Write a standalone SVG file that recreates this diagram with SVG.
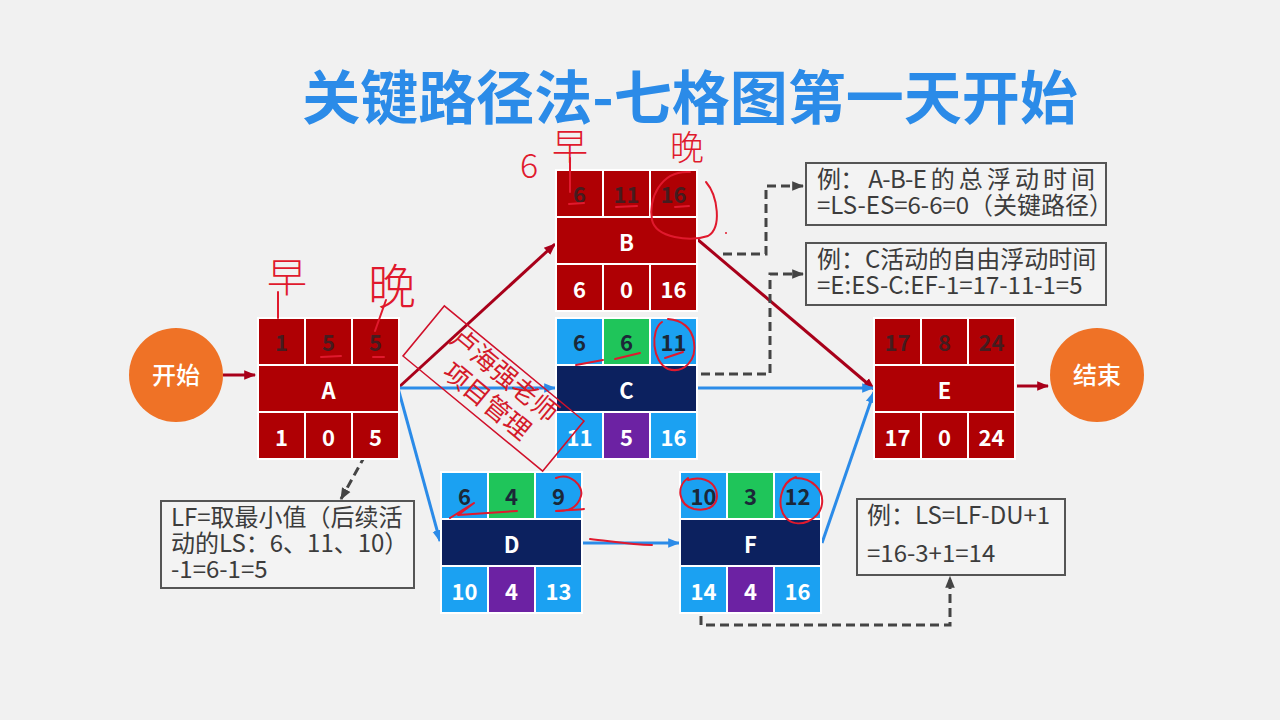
<svg xmlns="http://www.w3.org/2000/svg" width="1280" height="720" viewBox="0 0 1280 720">
  <defs>
    <style>
      text { font-family: "Noto Sans CJK SC", "Noto Sans", "Liberation Sans", sans-serif; }
      .title { font-size: 58px; font-weight: 700; fill: #2b8be8; }
      .cell { stroke: #ffffff; stroke-width: 2; }
      .red { fill: #af0004; }
      .blue { fill: #1ba1f2; }
      .green { fill: #1fc55a; }
      .navy { fill: #0c215f; }
      .purple { fill: #6c22a3; }
      .num { font-size: 22px; font-weight: 700; text-anchor: middle; }
      .w { fill: #ffffff; }
      .dr { fill: #451c1f; }
      .db { fill: #1b2838; }
      .circle { fill: #ef7226; }
      .ctext { font-size: 24px; font-weight: 500; fill: #ffffff; text-anchor: middle; }
      .note { fill: #f3f3f3; stroke: #555555; stroke-width: 2; }
      .ntext { font-size: 24px; fill: #3c3c3c; }
      .ln-red { stroke: #a8001a; stroke-width: 3; fill: none; }
      .ln-blue { stroke: #2b8be8; stroke-width: 3; fill: none; }
      .ln-dash { stroke: #444444; stroke-width: 3; fill: none; stroke-dasharray: 9 5; }
      .ink { stroke: #e0192d; stroke-width: 2; fill: none; stroke-linecap: round; stroke-linejoin: round; }
      .hand { fill: #e0192d; font-weight: 300; text-anchor: middle; }
    </style>
    <marker id="ah-red" viewBox="0 0 10 10" refX="9" refY="5" markerWidth="12" markerHeight="12" markerUnits="userSpaceOnUse" orient="auto">
      <path d="M0,1 L10,5 L0,9 z" fill="#a8001a"/>
    </marker>
    <marker id="ah-blue" viewBox="0 0 10 10" refX="9" refY="5" markerWidth="12" markerHeight="12" markerUnits="userSpaceOnUse" orient="auto">
      <path d="M0,1 L10,5 L0,9 z" fill="#2b8be8"/>
    </marker>
    <marker id="ah-gray" viewBox="0 0 10 10" refX="9" refY="5" markerWidth="12" markerHeight="12" markerUnits="userSpaceOnUse" orient="auto">
      <path d="M0,1 L10,5 L0,9 z" fill="#444444"/>
    </marker>
  </defs>

  <rect width="1280" height="720" fill="#f1f1f1"/>

  <text class="title" x="690" y="119" text-anchor="middle">关键路径法-七格图第一天开始</text>

  <!-- connectors -->
  <g id="connectors">
    <line class="ln-red" x1="223" y1="375" x2="255" y2="375" marker-end="url(#ah-red)"/>
    <line class="ln-red" x1="398" y1="388" x2="555" y2="244" marker-end="url(#ah-red)"/>
    <line class="ln-blue" x1="398" y1="388" x2="555" y2="388" marker-end="url(#ah-blue)"/>
    <line class="ln-blue" x1="398" y1="388" x2="440" y2="541" marker-end="url(#ah-blue)"/>
    <line class="ln-red" x1="697" y1="239" x2="874" y2="389" marker-end="url(#ah-red)"/>
    <line class="ln-blue" x1="697" y1="388" x2="873" y2="388" marker-end="url(#ah-blue)"/>
    <line class="ln-blue" x1="822" y1="543" x2="874" y2="392" marker-end="url(#ah-blue)"/>
    <line class="ln-blue" x1="583" y1="543" x2="679" y2="543" marker-end="url(#ah-blue)"/>
    <line class="ln-red" x1="1017" y1="386" x2="1048" y2="386" marker-end="url(#ah-red)"/>

    <path class="ln-dash" d="M723,254 H766 V186 H803" marker-end="url(#ah-gray)"/>
    <path class="ln-dash" d="M701,374 H770 V274 H803" marker-end="url(#ah-gray)"/>
    <path class="ln-dash" d="M372,443 L341,499" marker-end="url(#ah-gray)"/>
    <path class="ln-dash" d="M701,602 V625 H950 V577" marker-end="url(#ah-gray)"/>
  </g>

  <!-- start / end -->
  <g id="start">
    <circle class="circle" cx="176" cy="375" r="47"/>
    <text class="ctext" x="176" y="384">开始</text>
  </g>
  <g id="end">
    <circle class="circle" cx="1097" cy="375" r="47"/>
    <text class="ctext" x="1097" y="384">结束</text>
  </g>

  <!-- activity A -->
  <g id="node-A">
    <rect x="257" y="317" width="143" height="143" fill="#ffffff"/>
    <rect class="cell red" x="258" y="318" width="47" height="47"/>
    <rect class="cell red" x="305" y="318" width="47" height="47"/>
    <rect class="cell red" x="352" y="318" width="47" height="47"/>
    <rect class="cell red" x="258" y="365" width="141" height="47"/>
    <rect class="cell red" x="258" y="412" width="47" height="47"/>
    <rect class="cell red" x="305" y="412" width="47" height="47"/>
    <rect class="cell red" x="352" y="412" width="47" height="47"/>
    <text class="num dr" x="281.5" y="350.5">1</text>
    <text class="num dr" x="328.5" y="350.5">5</text>
    <text class="num dr" x="375.5" y="350.5">5</text>
    <text class="num w" x="328.5" y="398.5">A</text>
    <text class="num w" x="281.5" y="445.5">1</text>
    <text class="num w" x="328.5" y="445.5">0</text>
    <text class="num w" x="375.5" y="445.5">5</text>
  </g>

  <!-- activity B -->
  <g id="node-B">
    <rect x="555" y="169" width="143" height="143" fill="#ffffff"/>
    <rect class="cell red" x="556" y="170" width="47" height="47"/>
    <rect class="cell red" x="603" y="170" width="47" height="47"/>
    <rect class="cell red" x="650" y="170" width="47" height="47"/>
    <rect class="cell red" x="556" y="217" width="141" height="47"/>
    <rect class="cell red" x="556" y="264" width="47" height="47"/>
    <rect class="cell red" x="603" y="264" width="47" height="47"/>
    <rect class="cell red" x="650" y="264" width="47" height="47"/>
    <text class="num dr" x="579.5" y="202.5">6</text>
    <text class="num dr" x="626.5" y="202.5">11</text>
    <text class="num dr" x="673.5" y="202.5">16</text>
    <text class="num w" x="626.5" y="250.5">B</text>
    <text class="num w" x="579.5" y="297.5">6</text>
    <text class="num w" x="626.5" y="297.5">0</text>
    <text class="num w" x="673.5" y="297.5">16</text>
  </g>

  <!-- activity C -->
  <g id="node-C">
    <rect x="555" y="317" width="143" height="143" fill="#ffffff"/>
    <rect class="cell blue" x="556" y="318" width="47" height="47"/>
    <rect class="cell green" x="603" y="318" width="47" height="47"/>
    <rect class="cell blue" x="650" y="318" width="47" height="47"/>
    <rect class="cell navy" x="556" y="365" width="141" height="47"/>
    <rect class="cell blue" x="556" y="412" width="47" height="47"/>
    <rect class="cell purple" x="603" y="412" width="47" height="47"/>
    <rect class="cell blue" x="650" y="412" width="47" height="47"/>
    <text class="num db" x="579.5" y="350.5">6</text>
    <text class="num db" x="626.5" y="350.5">6</text>
    <text class="num db" x="673.5" y="350.5">11</text>
    <text class="num w" x="626.5" y="398.5">C</text>
    <text class="num w" x="579.5" y="445.5">11</text>
    <text class="num w" x="626.5" y="445.5">5</text>
    <text class="num w" x="673.5" y="445.5">16</text>
  </g>

  <!-- activity D -->
  <g id="node-D">
    <rect x="440" y="471" width="143" height="143" fill="#ffffff"/>
    <rect class="cell blue" x="441" y="472" width="47" height="47"/>
    <rect class="cell green" x="488" y="472" width="47" height="47"/>
    <rect class="cell blue" x="535" y="472" width="47" height="47"/>
    <rect class="cell navy" x="441" y="519" width="141" height="47"/>
    <rect class="cell blue" x="441" y="566" width="47" height="47"/>
    <rect class="cell purple" x="488" y="566" width="47" height="47"/>
    <rect class="cell blue" x="535" y="566" width="47" height="47"/>
    <text class="num db" x="464.5" y="504.5">6</text>
    <text class="num db" x="511.5" y="504.5">4</text>
    <text class="num db" x="558.5" y="504.5">9</text>
    <text class="num w" x="511.5" y="552.5">D</text>
    <text class="num w" x="464.5" y="599.5">10</text>
    <text class="num w" x="511.5" y="599.5">4</text>
    <text class="num w" x="558.5" y="599.5">13</text>
  </g>

  <!-- activity F -->
  <g id="node-F">
    <rect x="679" y="471" width="143" height="143" fill="#ffffff"/>
    <rect class="cell blue" x="680" y="472" width="47" height="47"/>
    <rect class="cell green" x="727" y="472" width="47" height="47"/>
    <rect class="cell blue" x="774" y="472" width="47" height="47"/>
    <rect class="cell navy" x="680" y="519" width="141" height="47"/>
    <rect class="cell blue" x="680" y="566" width="47" height="47"/>
    <rect class="cell purple" x="727" y="566" width="47" height="47"/>
    <rect class="cell blue" x="774" y="566" width="47" height="47"/>
    <text class="num db" x="703.5" y="504.5">10</text>
    <text class="num db" x="750.5" y="504.5">3</text>
    <text class="num db" x="797.5" y="504.5">12</text>
    <text class="num w" x="750.5" y="552.5">F</text>
    <text class="num w" x="703.5" y="599.5">14</text>
    <text class="num w" x="750.5" y="599.5">4</text>
    <text class="num w" x="797.5" y="599.5">16</text>
  </g>

  <!-- activity E -->
  <g id="node-E">
    <rect x="873" y="317" width="143" height="143" fill="#ffffff"/>
    <rect class="cell red" x="874" y="318" width="47" height="47"/>
    <rect class="cell red" x="921" y="318" width="47" height="47"/>
    <rect class="cell red" x="968" y="318" width="47" height="47"/>
    <rect class="cell red" x="874" y="365" width="141" height="47"/>
    <rect class="cell red" x="874" y="412" width="47" height="47"/>
    <rect class="cell red" x="921" y="412" width="47" height="47"/>
    <rect class="cell red" x="968" y="412" width="47" height="47"/>
    <text class="num dr" x="897.5" y="350.5">17</text>
    <text class="num dr" x="944.5" y="350.5">8</text>
    <text class="num dr" x="991.5" y="350.5">24</text>
    <text class="num w" x="944.5" y="398.5">E</text>
    <text class="num w" x="897.5" y="445.5">17</text>
    <text class="num w" x="944.5" y="445.5">0</text>
    <text class="num w" x="991.5" y="445.5">24</text>
  </g>

  <!-- notes -->
  <g id="note-total-float">
    <rect class="note" x="806" y="163" width="300" height="62"/>
    <text class="ntext" x="817" y="188" textLength="278" lengthAdjust="spacing">例： A-B-E 的 总 浮 动 时 间</text>
    <text class="ntext" x="817" y="214">=LS-ES=6-6=0（关键路径）</text>
  </g>
  <g id="note-free-float">
    <rect class="note" x="806" y="243" width="300" height="62"/>
    <text class="ntext" x="817" y="268">例：C活动的自由浮动时间</text>
    <text class="ntext" x="817" y="294">=E:ES-C:EF-1=17-11-1=5</text>
  </g>
  <g id="note-lf">
    <rect class="note" x="161" y="501" width="253" height="87"/>
    <text class="ntext" x="171" y="526">LF=取最小值（后续活</text>
    <text class="ntext" x="171" y="552">动的LS：6、11、10）</text>
    <text class="ntext" x="171" y="578">-1=6-1=5</text>
  </g>
  <g id="note-ls">
    <rect class="note" x="857" y="499" width="208" height="76"/>
    <text class="ntext" x="867" y="524">例：LS=LF-DU+1</text>
    <text class="ntext" x="867" y="562">=16-3+1=14</text>
  </g>

  <!-- stamp -->
  <g id="stamp" transform="translate(493.5,388.5) rotate(39.5)">
    <rect x="-90.5" y="-32.5" width="181" height="65" fill="none" stroke="#d0102a" stroke-width="1.5"/>
    <text x="0" y="-8" font-size="26" fill="#d41a2a" text-anchor="middle">卢海强老师</text>
    <text x="3" y="23" font-size="26" fill="#d41a2a" text-anchor="middle">项目管理</text>
  </g>

  <!-- pen marks -->
  <g id="pen-marks">
    <text class="hand" x="529" y="178" font-size="34">6</text>
    <text class="hand" x="570" y="160" font-size="36">早</text>
    <path class="ink" d="M570,158 V192"/>
    <text class="hand" x="687" y="160" font-size="34">晚</text>
    <path class="ink" d="M690,172 C660,170 648,200 652,220 C656,238 690,242 708,236 C722,228 718,196 706,182"/>
    <path class="ink" d="M569,204 L584,203 M616,207 L637,206 M675,207 L689,206"/>
    <circle cx="726" cy="233" r="1" fill="#e0192d"/>

    <text class="hand" x="287" y="292" font-size="40">早</text>
    <path class="ink" d="M278,292 V318"/>
    <text class="hand" x="392" y="304" font-size="48">晚</text>
    <path class="ink" d="M386,300 L375,331"/>
    <path class="ink" d="M321,357 L341,356 M373,357 L384,357"/>

    <path class="ink" d="M662,322 C650,330 652,362 668,369 C684,374 697,360 694,342 C692,328 682,320 668,319"/>
    <path class="ink" d="M576,365 L603,360 M615,359 L640,353 M665,358 L683,352"/>

    <path class="ink" d="M450,518 L474,503 L458,515 L517,511"/>
    <path class="ink" d="M556,478 C570,472 584,486 581,496 C578,506 570,512 556,511 C566,510 580,510 584,509"/>
    <path class="ink" d="M590,539 C610,541 630,545 652,545"/>

    <path class="ink" d="M688,478 C676,486 678,505 694,509 C710,512 720,504 716,490 C712,480 700,476 688,480"/>
    <path class="ink" d="M796,477 C780,482 776,506 786,518 C798,530 820,520 822,504 C824,490 812,478 796,478"/>
  </g>
</svg>
